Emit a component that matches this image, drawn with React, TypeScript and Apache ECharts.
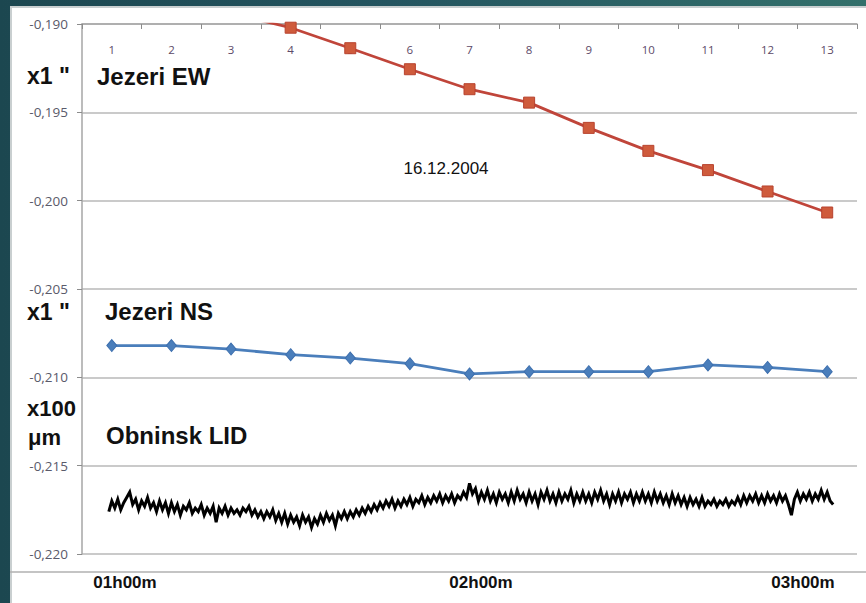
import React, { useEffect, useRef } from "react";
import * as echarts from "echarts";

// Top category axis (sample numbers, one every 10 minutes)
const categories = ["1", "2", "3", "4", "5", "6", "7", "8", "9", "10", "11", "12", "13"];

// Jezeri EW (x1 ") – first points lie above the plotted range
const ewValues = [-0.1873, -0.1884, -0.1894, -0.19021, -0.19137, -0.19256, -0.19369, -0.19445, -0.19588, -0.19718, -0.19827, -0.19948, -0.20067];

// Jezeri NS (x1 ")
const nsValues = [-0.2082, -0.2082, -0.2084, -0.20872, -0.20891, -0.20923, -0.20981, -0.20968, -0.20968, -0.20968, -0.2093, -0.20944, -0.20968];

// Obninsk LID (x100 µm), sampled every half minute starting at 00:59.5
const obninskStartMin = 59.5;
const obninskStepMin = 0.5;
const obninskValues = [
  -0.2176, -0.2170, -0.2174, -0.2169, -0.2175, -0.2171, -0.2168, -0.2165, -0.2172, -0.2169, -0.2175, -0.2170, -0.2173, -0.2168, -0.2174, -0.2171, -0.2176, -0.2170, -0.2175, -0.2171,
  -0.2177, -0.2171, -0.2176, -0.2172, -0.2178, -0.2173, -0.2175, -0.2171, -0.2177, -0.2174, -0.2176, -0.2172, -0.2178, -0.2174, -0.2177, -0.2173, -0.2182, -0.2174, -0.2177, -0.2173,
  -0.2178, -0.2174, -0.2177, -0.2175, -0.2178, -0.2174, -0.2176, -0.2173, -0.2178, -0.2175, -0.2179, -0.2176, -0.2180, -0.2176, -0.2179, -0.2175, -0.2181, -0.2177, -0.2182, -0.2177,
  -0.2183, -0.2178, -0.2182, -0.2179, -0.2184, -0.2178, -0.2182, -0.2179, -0.2185, -0.2180, -0.2183, -0.2178, -0.2182, -0.2177, -0.2181, -0.2178, -0.2184, -0.2177, -0.2180, -0.2176,
  -0.2180, -0.2176, -0.2179, -0.2175, -0.2178, -0.2174, -0.2177, -0.2173, -0.2176, -0.2172, -0.2175, -0.2171, -0.2174, -0.2170, -0.2173, -0.2169, -0.2174, -0.2170, -0.2173, -0.2169,
  -0.2172, -0.2168, -0.2173, -0.2169, -0.2171, -0.2167, -0.2172, -0.2168, -0.2171, -0.2167, -0.2170, -0.2166, -0.2171, -0.2167, -0.2170, -0.2166, -0.2171, -0.2167, -0.2169, -0.2165,
  -0.2168, -0.2160, -0.2166, -0.2163, -0.2170, -0.2165, -0.2169, -0.2164, -0.2170, -0.2166, -0.2171, -0.2165, -0.2169, -0.2166, -0.2171, -0.2165, -0.2170, -0.2164, -0.2169, -0.2166,
  -0.2171, -0.2165, -0.2170, -0.2166, -0.2172, -0.2165, -0.2169, -0.2164, -0.2170, -0.2166, -0.2171, -0.2165, -0.2170, -0.2166, -0.2169, -0.2164, -0.2171, -0.2166, -0.2170, -0.2165,
  -0.2170, -0.2166, -0.2171, -0.2165, -0.2169, -0.2164, -0.2170, -0.2166, -0.2172, -0.2166, -0.2170, -0.2165, -0.2171, -0.2166, -0.2169, -0.2165, -0.2171, -0.2166, -0.2170, -0.2165,
  -0.2170, -0.2166, -0.2171, -0.2165, -0.2170, -0.2166, -0.2171, -0.2167, -0.2172, -0.2166, -0.2171, -0.2167, -0.2172, -0.2168, -0.2173, -0.2168, -0.2172, -0.2169, -0.2173, -0.2168,
  -0.2173, -0.2170, -0.2172, -0.2169, -0.2173, -0.2170, -0.2172, -0.2169, -0.2173, -0.2170, -0.2172, -0.2168, -0.2172, -0.2167, -0.2171, -0.2167, -0.2170, -0.2166, -0.2171, -0.2167,
  -0.2171, -0.2166, -0.2170, -0.2167, -0.2171, -0.2166, -0.2170, -0.2167, -0.2172, -0.2178, -0.2169, -0.2165, -0.2170, -0.2166, -0.2169, -0.2165, -0.2170, -0.2166, -0.2169, -0.2164,
  -0.2169, -0.2165, -0.2170, -0.2172,
];

// Y axis range and tick step
const yMin = -0.22;
const yMax = -0.19;
const yStep = 0.005;

// Hidden time axis (minutes after midnight) spanning the plot width
const timeMinMin = 55;
const timeMaxMin = 185;

// Bottom time labels
const timeLabels = ["01h00m", "02h00m", "03h00m"];

export default function App() {
  const ref = useRef<HTMLDivElement>(null);

  useEffect(() => {
    if (!ref.current) return;
    const chart = echarts.init(ref.current, null, { renderer: "svg" });

    const obninskData = obninskValues.map((v, i) => [obninskStartMin + i * obninskStepMin, v]);

    const unitFont = "bold 23px 'Liberation Sans', Arial, sans-serif";
    const nameFont = "bold 24px 'Liberation Sans', Arial, sans-serif";

    const labelPositions = [125, 481, 803];

    chart.setOption({
      animation: false,
      grid: { left: 82, right: 9, top: 24, bottom: 49, containLabel: false },
      xAxis: [
        {
          type: "category",
          position: "top",
          data: categories,
          boundaryGap: true,
          axisLine: { show: true, lineStyle: { color: "#a6a6a6", width: 1.5 } },
          axisTick: { show: true, inside: true, length: 5, alignWithLabel: false, lineStyle: { color: "#8c8c8c" } },
          axisLabel: {
            show: true,
            inside: true,
            margin: 19,
            color: "#5d4a68",
            fontSize: 11.5,
            fontFamily: "'Open Sans', sans-serif",
          },
          splitLine: { show: false },
        },
        {
          type: "value",
          show: false,
          min: timeMinMin,
          max: timeMaxMin,
          position: "bottom",
        },
      ],
      yAxis: {
        type: "value",
        min: yMin,
        max: yMax,
        interval: yStep,
        axisLine: { show: true, lineStyle: { color: "#a6a6a6", width: 1.5 } },
        axisTick: { show: true, inside: false, length: 5, lineStyle: { color: "#8c8c8c" } },
        axisLabel: {
          margin: 14,
          color: "#5a5a6a",
          fontSize: 13.5,
          fontFamily: "'Open Sans', sans-serif",
          formatter: (v: number) => v.toFixed(3).replace(".", ","),
        },
        splitLine: { show: true, lineStyle: { color: "#b8b8b8", width: 1.5 } },
      },
      series: [
        {
          name: "Jezeri EW",
          type: "line",
          xAxisIndex: 0,
          data: ewValues,
          clip: true,
          symbol: "rect",
          symbolSize: 11,
          lineStyle: { color: "#c0453a", width: 2.75 },
          itemStyle: { color: "#cf5b3c", borderColor: "#b8432f", borderWidth: 1 },
          z: 3,
        },
        {
          name: "Jezeri NS",
          type: "line",
          xAxisIndex: 0,
          data: nsValues,
          clip: true,
          symbol: "diamond",
          symbolSize: [10, 12],
          lineStyle: { color: "#4a7ebb", width: 2.75 },
          itemStyle: { color: "#4a7ebb", borderColor: "#3d6fae", borderWidth: 1 },
          z: 3,
        },
        {
          name: "Obninsk LID",
          type: "line",
          xAxisIndex: 1,
          data: obninskData,
          clip: true,
          showSymbol: false,
          symbol: "none",
          lineStyle: { color: "#000000", width: 3, join: "miter" },
          z: 2,
        },
      ],
      graphic: [
        {
          type: "line",
          shape: { x1: 10, y1: 572, x2: 866, y2: 572 },
          style: { stroke: "#b0b0b0", lineWidth: 1.5 },
          silent: true,
        },
        { type: "text", x: 27, y: 76, style: { text: 'x1 "', font: unitFont, fill: "#111", verticalAlign: "middle" } },
        { type: "text", x: 27, y: 312, style: { text: 'x1 "', font: unitFont, fill: "#111", verticalAlign: "middle" } },
        { type: "text", x: 27, y: 408, style: { text: "x100", font: "bold 22px 'Liberation Sans', Arial, sans-serif", fill: "#111", verticalAlign: "middle" } },
        { type: "text", x: 28, y: 437, style: { text: "μm", font: "bold 22px 'Liberation Sans', Arial, sans-serif", fill: "#111", verticalAlign: "middle" } },
        { type: "text", x: 97, y: 76, style: { text: "Jezeri EW", font: nameFont, fill: "#111", verticalAlign: "middle" } },
        { type: "text", x: 105, y: 311, style: { text: "Jezeri NS", font: nameFont, fill: "#111", verticalAlign: "middle" } },
        { type: "text", x: 106, y: 435, style: { text: "Obninsk LID", font: nameFont, fill: "#111", verticalAlign: "middle" } },
        {
          type: "text",
          x: 446,
          y: 168,
          style: {
            text: "16.12.2004",
            font: "17px 'Liberation Sans', Arial, sans-serif",
            fill: "#111",
            align: "center",
            verticalAlign: "middle",
          },
        },
        ...timeLabels.map((t, i) => ({
          type: "text",
          x: labelPositions[i],
          y: 582,
          style: {
            text: t,
            font: "bold 17px 'Liberation Sans', Arial, sans-serif",
            fill: "#111",
            align: "center",
            verticalAlign: "middle",
          },
        })),
      ],
    });

    return () => chart.dispose();
  }, []);

  return (
    <div
      style={{
        position: "fixed",
        left: 0,
        top: 0,
        width: 866,
        height: 603,
        background: "linear-gradient(to right, #1c4750 0%, #245560 45%, #33706b 100%)",
        overflow: "hidden",
      }}
    >
      <div
        style={{
          position: "absolute",
          left: 10,
          top: 6,
          width: 856,
          height: 597,
          background: "#ffffff",
          borderLeft: "2px solid #c9cfd0",
          borderTop: "2px solid #c9cfd0",
          boxSizing: "border-box",
        }}
      />
      <div ref={ref} style={{ position: "absolute", left: 0, top: 0, width: 866, height: 603 }} />
    </div>
  );
}
